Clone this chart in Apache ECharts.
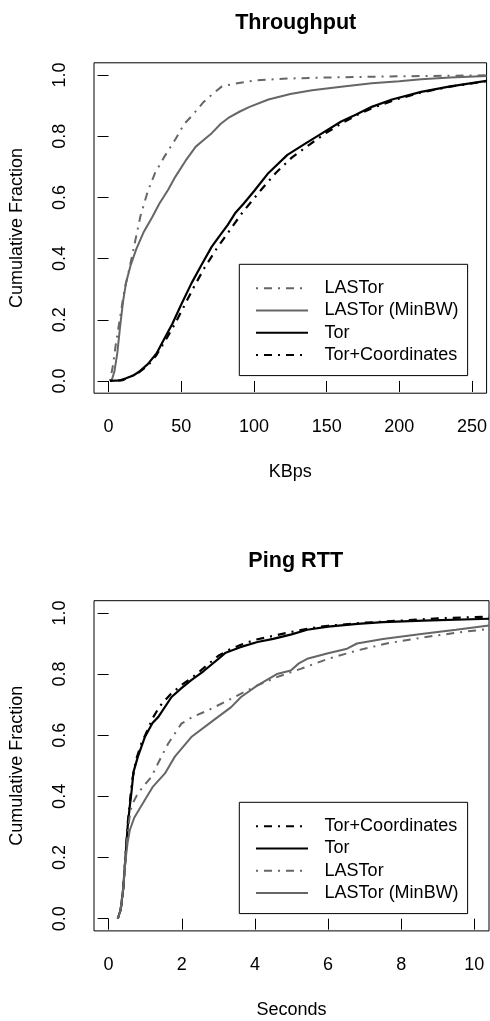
<!DOCTYPE html>
<html>
<head>
<meta charset="utf-8">
<script src="https://cdn.jsdelivr.net/npm/echarts@6/dist/echarts.min.js"></script>
<style>
html,body{margin:0;padding:0;background:#fff;}
#chart{width:490px;height:1021px;}
</style>
</head>
<body>
<div id="chart"></div>
<script>
// ---------- Data ----------
const titles = ['Throughput', 'Ping RTT'];
const xAxisNames = ['KBps', 'Seconds'];
const yAxisName = 'Cumulative Fraction';
const tputTicks = [0, 50, 100, 150, 200, 250];
const rttTicks = [0, 2, 4, 6, 8, 10];
const yTicks = [0, 0.2, 0.4, 0.6, 0.8, 1.0];

// Throughput CDFs [KBps, fraction]
const tputLastor = [[1,0],[3,0.05],[5,0.12],[8,0.21],[11,0.3],[14,0.36],[18,0.45],[22,0.54],[27,0.62],[32,0.68],[38,0.73],[46,0.79],[52,0.84],[58,0.87],[65,0.91],[72,0.94],[78,0.963],[85,0.97],[100,0.982],[120,0.988],[150,0.992],[200,0.996],[260,0.999]];
const tputLastorMinBW = [[2,0],[4,0.03],[6,0.09],[8,0.18],[10,0.26],[12,0.32],[15,0.375],[19,0.43],[24,0.485],[30,0.535],[35,0.58],[41,0.625],[46,0.668],[53,0.72],[60,0.766],[66,0.79],[71,0.81],[77,0.84],[83,0.862],[90,0.88],[97,0.896],[110,0.92],[125,0.938],[140,0.95],[160,0.962],[181,0.973],[200,0.98],[215,0.986],[235,0.992],[260,0.997]];
const tputTor = [[1,0],[8,0.002],[12,0.009],[17,0.018],[21,0.03],[27,0.055],[33,0.09],[38,0.135],[44,0.188],[50,0.25],[57,0.319],[64,0.38],[71,0.439],[76,0.472],[82,0.51],[87,0.548],[93,0.58],[100,0.62],[110,0.68],[123,0.739],[135,0.775],[147,0.81],[160,0.848],[170,0.87],[181,0.896],[195,0.92],[215,0.945],[235,0.963],[260,0.981]];
const tputTorCoord = [[1,0],[10,0.003],[20,0.025],[27,0.05],[33,0.085],[40,0.14],[46,0.19],[52,0.245],[59,0.31],[66,0.37],[74,0.43],[80,0.47],[86,0.51],[92,0.55],[98,0.585],[105,0.625],[115,0.68],[126,0.73],[138,0.772],[150,0.812],[162,0.847],[172,0.872],[183,0.895],[197,0.919],[215,0.943],[235,0.962],[260,0.98]];

// Ping RTT CDFs [seconds, fraction]
const rttTorCoord = [[0.25,0],[0.33,0.03],[0.4,0.1],[0.46,0.2],[0.52,0.31],[0.58,0.38],[0.64,0.45],[0.75,0.52],[0.9,0.575],[1.0,0.6],[1.2,0.655],[1.4,0.695],[1.7,0.735],[2.0,0.765],[2.3,0.79],[2.7,0.83],[3.0,0.86],[3.3,0.88],[3.6,0.895],[4.0,0.912],[4.5,0.925],[5.0,0.938],[5.5,0.95],[6.0,0.958],[7,0.968],[8,0.975],[9,0.982],[10.4,0.988]];
const rttTor = [[0.25,0],[0.33,0.03],[0.4,0.1],[0.46,0.2],[0.52,0.3],[0.58,0.37],[0.63,0.42],[0.68,0.48],[0.8,0.53],[0.99,0.594],[1.2,0.64],[1.36,0.66],[1.72,0.725],[2.0,0.755],[2.26,0.78],[2.6,0.81],[3.0,0.85],[3.2,0.87],[3.6,0.888],[4.07,0.905],[4.5,0.915],[5.0,0.93],[5.43,0.945],[6.0,0.955],[6.8,0.964],[7.5,0.97],[8.6,0.975],[10.4,0.981]];
const rttLastor = [[0.25,0],[0.33,0.03],[0.4,0.1],[0.46,0.2],[0.52,0.28],[0.57,0.33],[0.63,0.37],[0.8,0.41],[1.0,0.44],[1.17,0.464],[1.4,0.52],[1.63,0.573],[1.99,0.638],[2.3,0.66],[2.71,0.681],[3.2,0.71],[3.62,0.736],[4.07,0.763],[4.6,0.79],[5.25,0.817],[6.0,0.85],[6.79,0.877],[7.6,0.9],[8.6,0.92],[9.5,0.935],[10.4,0.948]];
const rttLastorMinBW = [[0.25,0],[0.33,0.03],[0.4,0.1],[0.46,0.19],[0.52,0.25],[0.58,0.29],[0.7,0.33],[0.85,0.36],[0.99,0.388],[1.2,0.43],[1.54,0.475],[1.81,0.53],[2.26,0.594],[2.8,0.643],[3.35,0.692],[3.62,0.725],[4.07,0.763],[4.6,0.8],[4.98,0.812],[5.2,0.835],[5.43,0.85],[6.0,0.868],[6.52,0.883],[6.79,0.9],[7.5,0.915],[8.6,0.932],[9.5,0.945],[10.4,0.959]];

const topLegendOrder = ['LASTor', 'LASTor (MinBW)', 'Tor', 'Tor+Coordinates'];
const bottomLegendOrder = ['Tor+Coordinates', 'Tor', 'LASTor', 'LASTor (MinBW)'];

// ---------- Styles ----------
const FONT = '"Liberation Sans", Arial, Helvetica, sans-serif';
const GRAY = '#666666';
const BLACK = '#000000';
const DOTDASH = [2, 6, 8, 6];
const styles = {
  'LASTor': {color: GRAY, type: DOTDASH, width: 2},
  'LASTor (MinBW)': {color: GRAY, type: 'solid', width: 2},
  'Tor': {color: BLACK, type: 'solid', width: 2.2},
  'Tor+Coordinates': {color: BLACK, type: DOTDASH, width: 2.2}
};

function mkSeries(name, data, idx) {
  const s = styles[name];
  return {
    type: 'line', name: name, data: data,
    xAxisIndex: idx, yAxisIndex: idx,
    showSymbol: false, symbol: 'none', smooth: false, animation: false,
    silent: true,
    lineStyle: {color: s.color, width: s.width, type: s.type, cap: 'butt'},
    itemStyle: {color: s.color}
  };
}

function mkXAxis(idx, min, max, ticks) {
  return {
    type: 'value', gridIndex: idx, min: min, max: max,
    name: xAxisNames[idx], nameLocation: 'middle', nameGap: 70,
    nameTextStyle: {fontFamily: FONT, fontSize: 18, color: BLACK},
    axisLine: {show: false},
    splitLine: {show: false},
    axisTick: {show: true, length: 11, inside: false, lineStyle: {color: BLACK, width: 1}, customValues: ticks},
    axisLabel: {show: true, margin: 25, fontFamily: FONT, fontSize: 18, color: BLACK, customValues: ticks,
      formatter: v => String(v)}
  };
}
function mkYAxis(idx) {
  return {
    type: 'value', gridIndex: idx, min: -0.04, max: 1.04,
    name: yAxisName, nameLocation: 'middle', nameGap: 68,
    nameTextStyle: {fontFamily: FONT, fontSize: 18, color: BLACK},
    axisLine: {show: false},
    splitLine: {show: false},
    axisTick: {show: true, length: 11, inside: false, lineStyle: {color: BLACK, width: 1}, customValues: yTicks},
    axisLabel: {show: true, margin: 25, rotate: 90, fontFamily: FONT, fontSize: 18, color: BLACK, customValues: yTicks,
      formatter: v => v.toFixed(1)}
  };
}
function mkLegend(order, top) {
  return {
    orient: 'vertical', left: 239.3, top: top,
    data: order,
    itemWidth: 52, itemHeight: 14, itemGap: 0.2,
    padding: [13, 9, 9.7, 15.7],
    borderColor: BLACK, borderWidth: 1, backgroundColor: '#fff',
    itemStyle: {color: 'rgba(0,0,0,0)', borderColor: 'rgba(0,0,0,0)', borderWidth: 0, opacity: 0},
    textStyle: {fontFamily: FONT, fontSize: 18, color: BLACK, lineHeight: 22, padding: [0, 0, 0, 11.6]},
    selectedMode: false
  };
}

const chart = echarts.init(document.getElementById('chart'), null, {renderer: 'canvas'});
chart.setOption({
  animation: false,
  backgroundColor: '#fff',
  title: [
    {text: titles[0], left: 290.7, top: 7, textAlign: 'center', textStyle: {fontFamily: FONT, fontSize: 21.6, fontWeight: 'bold', color: BLACK}},
    {text: titles[1], left: 290.7, top: 545, textAlign: 'center', textStyle: {fontFamily: FONT, fontSize: 21.6, fontWeight: 'bold', color: BLACK}}
  ],
  grid: [
    {left: 92.3, top: 62.8, width: 396.7, height: 330.4, show: true, borderColor: BLACK, borderWidth: 1, backgroundColor: 'transparent', containLabel: false},
    {left: 92.3, top: 600.7, width: 396.7, height: 330.2, show: true, borderColor: BLACK, borderWidth: 1, backgroundColor: 'transparent', containLabel: false}
  ],
  xAxis: [mkXAxis(0, -10, 260, tputTicks), mkXAxis(1, -0.4, 10.4, rttTicks)],
  yAxis: [mkYAxis(0), mkYAxis(1)],
  legend: [mkLegend(topLegendOrder, 264.3), mkLegend(bottomLegendOrder, 802.3)],
  series: [
    mkSeries('LASTor', tputLastor, 0),
    mkSeries('LASTor (MinBW)', tputLastorMinBW, 0),
    mkSeries('Tor', tputTor, 0),
    mkSeries('Tor+Coordinates', tputTorCoord, 0),
    mkSeries('Tor+Coordinates', rttTorCoord, 1),
    mkSeries('Tor', rttTor, 1),
    mkSeries('LASTor', rttLastor, 1),
    mkSeries('LASTor (MinBW)', rttLastorMinBW, 1)
  ]
});
</script>
</body>
</html>
